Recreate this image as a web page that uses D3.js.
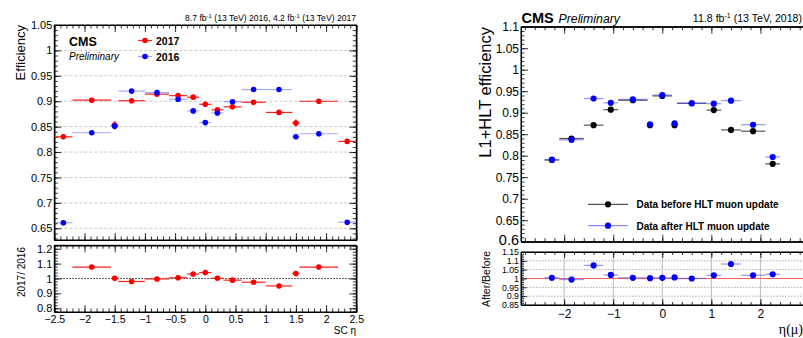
<!DOCTYPE html>
<html><head><meta charset="utf-8">
<script src="https://cdn.jsdelivr.net/npm/d3@7"></script>
<style>
body{margin:0;background:#fff}
svg{display:block}
text{font-family:"Liberation Sans",Arial,Helvetica,sans-serif;fill:#000}
</style>
</head><body>
<svg id="c" width="803" height="338"></svg>
<script>
// ---------------- LEFT PANEL DATA (SC eta, 2017 vs 2016) ----------------
const leftBinLow  = [-2.5, -2.2, -1.56, -1.44, -1.0, -0.6, -0.3, -0.1, 0.1, 0.3, 0.6, 1.0, 1.44, 1.56, 2.2];
const leftBinHigh = [-2.2, -1.56, -1.44, -1.0, -0.6, -0.3, -0.1, 0.1, 0.3, 0.6, 1.0, 1.44, 1.56, 2.2, 2.5];
const eff2017 = [0.830, 0.902, 0.853, 0.901, 0.914, 0.911, 0.908, 0.894, 0.883, 0.889, 0.898, 0.878, 0.857, 0.900, 0.821];
const err2017 = [0.005, 0.002, 0.008, 0.002, 0.002, 0.002, 0.003, 0.003, 0.003, 0.002, 0.002, 0.002, 0.007, 0.002, 0.005];
const eff2016 = [0.661, 0.838, 0.851, 0.920, 0.917, 0.904, 0.881, 0.858, 0.877, 0.899, 0.923, 0.923, 0.830, 0.836, 0.662];
const err2016 = [0.004, 0.002, 0.007, 0.002, 0.002, 0.002, 0.003, 0.003, 0.003, 0.002, 0.002, 0.002, 0.006, 0.002, 0.004];
const ratio1716    = [null, 1.077, 1.001, 0.980, 0.997, 1.005, 1.030, 1.040, 1.002, 0.989, 0.975, 0.950, 1.034, 1.077, null];
const ratio1716Err = [null, 0.003, 0.010, 0.003, 0.003, 0.003, 0.004, 0.004, 0.004, 0.003, 0.003, 0.003, 0.010, 0.003, null];
const leftXTicks = [-2.5, -2, -1.5, -1, -0.5, 0, 0.5, 1, 1.5, 2, 2.5];
const leftXTickLabels = ["−2.5", "−2", "−1.5", "−1", "−0.5", "0", "0.5", "1", "1.5", "2", "2.5"];
const leftYTicks = [0.65, 0.7, 0.75, 0.8, 0.85, 0.9, 0.95, 1, 1.05];
const leftRatioTicks = [0.8, 0.9, 1, 1.1, 1.2];

// ---------------- RIGHT PANEL DATA (muon eta, before/after HLT update) ----------------
const rightBinLow  = [-2.4, -2.1, -1.6, -1.2, -0.9, -0.3, -0.2, 0.2, 0.3, 0.9, 1.2, 1.6, 2.1];
const rightBinHigh = [-2.1, -1.6, -1.2, -0.9, -0.3, -0.2, 0.2, 0.3, 0.9, 1.2, 1.6, 2.1, 2.4];
const effBefore = [0.790, 0.840, 0.871, 0.907, 0.929, 0.871, 0.939, 0.871, 0.922, 0.906, 0.860, 0.857, 0.781];
const effAfter  = [0.791, 0.837, 0.933, 0.923, 0.931, 0.873, 0.941, 0.875, 0.922, 0.921, 0.928, 0.872, 0.797];
const ratioAB   = [1.004, 0.994, 1.074, 1.020, 1.004, 1.002, 1.004, 1.006, 1.000, 1.018, 1.082, 1.018, 1.024];
const rightXTicks = [-2, -1, 0, 1, 2];
const rightYTicks = [0.6, 0.65, 0.7, 0.75, 0.8, 0.85, 0.9, 0.95, 1, 1.05, 1.1];
const rightYTickLabels = ["0.6", "0.65", "0.7", "0.75", "0.8", "0.85", "0.9", "0.95", "1", "1.05", "1.1"];
const rightRatioTicks = [0.85, 0.9, 0.95, 1, 1.05, 1.1, 1.15];

const svg = d3.select("#c");
const FONT = '"Liberation Sans",Arial,Helvetica,sans-serif';

function minorTicks(domain, step) {
  const lo = Math.ceil(domain[0] / step - 1e-6), hi = Math.floor(domain[1] / step + 1e-6);
  return d3.range(lo, hi + 1).map(i => +(i * step).toFixed(6));
}

// draws inward ticks on the requested sides
function drawAxes(g, x, y, o) {
  const x0 = x.range()[0], yTop = y.range()[1], yBot = y.range()[0];
  const mk = (axisFn, scale, vals, size, fmt, pad, tx, ty, fs) => {
    const a = axisFn(scale).tickValues(vals).tickSizeInner(-size).tickSizeOuter(0).tickPadding(pad);
    a.tickFormat(fmt || (() => ""));
    const gg = g.append("g").attr("transform", `translate(${tx},${ty})`).call(a);
    gg.select(".domain").attr("stroke", "#000").attr("stroke-width", 1);
    gg.selectAll(".tick line").attr("stroke", "#000").attr("stroke-width", 0.8);
    gg.selectAll("text").style("font-family", FONT).style("font-size", (fs || 11) + "px").attr("fill", "#000");
    return gg;
  };
  const xd = x.domain(), yd = y.domain();
  const xMinor = minorTicks(xd, o.xMinor);
  const yMinor = minorTicks(yd, o.yMinor);
  mk(d3.axisBottom, x, xMinor, o.minor, null, 0, 0, yBot);
  const bx = mk(d3.axisBottom, x, o.xTicks, o.major, o.xLabels ? (d, i) => o.xLabels[i] : null, o.xPad || 3, 0, yBot, o.xFont);
  if (o.top !== false) {
    mk(d3.axisTop, x, xMinor, o.minor, null, 0, 0, yTop);
    mk(d3.axisTop, x, o.xTicks, o.major, null, 0, 0, yTop);
  }
  mk(d3.axisLeft, y, yMinor, o.minor, null, 0, x0, 0);
  const ly = mk(d3.axisLeft, y, o.yTicks, o.major, o.yLabels ? (d, i) => o.yLabels[i] : null, o.yPad || 3, x0, 0, o.yFont);
  if (o.right !== false) {
    const xr = x.range()[1];
    mk(d3.axisRight, y, yMinor, o.minor, null, 0, xr, 0);
    mk(d3.axisRight, y, o.yTicks, o.major, null, 0, xr, 0);
  }
  return {bx, ly};
}

function drawPoints(g, x, y, low, high, vals, errs, col, barCol, r) {
  const data = vals.map((v, i) => ({v, e: errs ? errs[i] : 0, lo: low[i], hi: high[i]})).filter(d => d.v != null);
  const gg = g.append("g");
  gg.selectAll("line.h").data(data).join("line")
    .attr("x1", d => x(d.lo)).attr("x2", d => x(d.hi))
    .attr("y1", d => y(d.v)).attr("y2", d => y(d.v))
    .attr("stroke", barCol).attr("stroke-width", 1.2);
  gg.selectAll("line.v").data(data.filter(d => d.e > 0)).join("line")
    .attr("x1", d => x((d.lo + d.hi) / 2)).attr("x2", d => x((d.lo + d.hi) / 2))
    .attr("y1", d => y(d.v - d.e)).attr("y2", d => y(d.v + d.e))
    .attr("stroke", barCol).attr("stroke-width", 1.6);
  gg.selectAll("circle").data(data).join("circle")
    .attr("cx", d => x((d.lo + d.hi) / 2)).attr("cy", d => y(d.v))
    .attr("r", r).attr("fill", col);
}

function text(g, x, y, str, size, opts = {}) {
  const t = g.append("text").attr("x", x).attr("y", y)
    .style("font-size", size + "px")
    .style("font-family", opts.family || FONT)
    .style("font-weight", opts.weight || "normal")
    .style("font-style", opts.style || "normal")
    .attr("text-anchor", opts.anchor || "start");
  if (opts.rotate) t.attr("transform", `rotate(-90,${x},${y})`);
  t.text(str);
  return t;
}

// =================== LEFT PANEL ===================
{
  const g = svg.append("g");
  const x = d3.scaleLinear().domain([-2.5, 2.5]).range([54.3, 356.3]);
  const y = d3.scaleLinear().domain([0.627, 1.05]).range([240, 25]);
  const yr = d3.scaleLinear().domain([0.775, 1.223]).range([312, 245.3]);

  g.append("g").selectAll("line").data(leftYTicks.filter(v => v < 1.04)).join("line")
    .attr("x1", x(-2.5)).attr("x2", x(2.5)).attr("y1", d => y(d)).attr("y2", d => y(d))
    .attr("stroke", "#bbb").attr("stroke-width", 0.8).attr("stroke-dasharray", "3,2");

  drawAxes(g, x, y, {xTicks: leftXTicks, xMinor: 0.1, yTicks: leftYTicks, yMinor: 0.01,
    major: 7, minor: 3.5, yLabels: leftYTicks.map(d => d3.format("")(d)), yFont: 11, yPad: 2});
  g.append("rect").attr("x", 54.3).attr("y", 25).attr("width", 302).attr("height", 215)
    .attr("fill", "none").attr("stroke", "#000").attr("stroke-width", 1);

  drawPoints(g, x, y, leftBinLow, leftBinHigh, eff2017, err2017, "#ff0000", "#ff2020", 2.8);
  drawPoints(g, x, y, leftBinLow, leftBinHigh, eff2016, err2016, "#0000ff", "rgba(60,60,255,0.45)", 2.8);

  g.append("line").attr("x1", x(-2.5)).attr("x2", x(2.5)).attr("y1", yr(1)).attr("y2", yr(1))
    .attr("stroke", "#333").attr("stroke-width", 1.2).attr("stroke-dasharray", "1.5,1.5");
  drawAxes(g, x, yr, {xTicks: leftXTicks, xMinor: 0.1, yTicks: leftRatioTicks, yMinor: 0.02,
    major: 7, minor: 3.5, xLabels: leftXTickLabels, xFont: 10.5, xPad: 4,
    yLabels: leftRatioTicks.map(d => d3.format("")(d)), yFont: 11, yPad: 2});
  g.append("rect").attr("x", 54.3).attr("y", 245.3).attr("width", 302).attr("height", 66.7)
    .attr("fill", "none").attr("stroke", "#000").attr("stroke-width", 1);
  drawPoints(g, x, yr, leftBinLow, leftBinHigh, ratio1716, ratio1716Err, "#ff0000", "#ff2020", 2.8);

  const t = text(g, 356, 20.5, "", 8.6, {anchor: "end"});
  t.append("tspan").text("8.7 fb");
  t.append("tspan").attr("dy", -3).style("font-size", "6px").text("-1");
  t.append("tspan").attr("dy", 3).text(" (13 TeV) 2016, 4.2 fb");
  t.append("tspan").attr("dy", -3).style("font-size", "6px").text("-1");
  t.append("tspan").attr("dy", 3).text(" (13 TeV) 2017");

  text(g, 69, 45.5, "CMS", 12.5, {weight: "bold"});
  text(g, 69, 60, "Preliminary", 10, {style: "italic"});

  [["2017", "#ff0000", "#ff2020", 40.5], ["2016", "#0000ff", "rgba(60,60,255,0.45)", 56.5]].forEach(([lab, c, bc, yy]) => {
    g.append("line").attr("x1", 138).attr("x2", 152).attr("y1", yy).attr("y2", yy).attr("stroke", bc).attr("stroke-width", 1.2);
    g.append("circle").attr("cx", 145).attr("cy", yy).attr("r", 2.8).attr("fill", c);
    text(g, 156, yy + 4, lab, 10.5, {weight: "bold"});
  });

  text(g, 24.5, 25, "Efficiency", 13, {anchor: "end", rotate: true});
  text(g, 25, 247, "2017/ 2016", 10, {anchor: "end", rotate: true});
  text(g, 356, 334, "SC η", 10, {anchor: "end"});
}

// =================== RIGHT PANEL ===================
{
  const g = svg.append("g");
  const x = d3.scaleLinear().domain([-2.88, 2.88]).range([521, 803.6]);
  const y = d3.scaleLinear().domain([0.6, 1.1]).range([241.7, 26.7]);
  const yr = d3.scaleLinear().domain([0.85, 1.15]).range([305, 252]);

  const ax = drawAxes(g, x, y, {xTicks: rightXTicks, xMinor: 0.2, yTicks: rightYTicks, yMinor: 0.01,
    major: 7, minor: 3.5, yLabels: rightYTickLabels, yFont: 12, yPad: 2, right: false});
  ax.ly.selectAll("text").filter((d) => d === 0.6).style("font-size", "14.5px").attr("dy", "0.2em");
  g.append("line").attr("x1", 521).attr("x2", 803).attr("y1", 26.7).attr("y2", 26.7).attr("stroke", "#000");
  g.append("line").attr("x1", 521).attr("x2", 803).attr("y1", 241.7).attr("y2", 241.7).attr("stroke", "#000");
  g.append("line").attr("x1", 521).attr("x2", 521).attr("y1", 26.7).attr("y2", 241.7).attr("stroke", "#000");

  drawPoints(g, x, y, rightBinLow, rightBinHigh, effBefore, null, "#000", "#555", 3.1);
  drawPoints(g, x, y, rightBinLow, rightBinHigh, effAfter, null, "#0000ff", "rgba(60,60,255,0.55)", 3.1);

  g.append("g").selectAll("line").data(rightRatioTicks.filter(v => v !== 1)).join("line")
    .attr("x1", 521).attr("x2", 803).attr("y1", d => yr(d)).attr("y2", d => yr(d))
    .attr("stroke", "#999").attr("stroke-width", 0.8).attr("stroke-dasharray", "1.5,1.5");
  g.append("g").selectAll("line").data(rightXTicks).join("line")
    .attr("x1", d => x(d)).attr("x2", d => x(d)).attr("y1", 252).attr("y2", 305)
    .attr("stroke", "#bbb").attr("stroke-width", 1);
  g.append("line").attr("x1", 521).attr("x2", 803).attr("y1", yr(1)).attr("y2", yr(1))
    .attr("stroke", "#ff6060").attr("stroke-width", 1.1);

  drawAxes(g, x, yr, {xTicks: rightXTicks, xMinor: 0.2, yTicks: rightRatioTicks, yMinor: 0.01,
    major: 6, minor: 3, xLabels: rightXTicks.map(d => d3.format("")(d)), xFont: 12, xPad: 4,
    yLabels: rightRatioTicks.map(d => d3.format("")(d)), yFont: 8.8, yPad: 2, right: false});
  g.append("line").attr("x1", 521).attr("x2", 803).attr("y1", 252).attr("y2", 252).attr("stroke", "#000");
  g.append("line").attr("x1", 521).attr("x2", 803).attr("y1", 305).attr("y2", 305).attr("stroke", "#000");
  g.append("line").attr("x1", 521).attr("x2", 521).attr("y1", 252).attr("y2", 305).attr("stroke", "#000");

  drawPoints(g, x, yr, rightBinLow, rightBinHigh, ratioAB, null, "#0000ff", "rgba(60,60,255,0.55)", 3.1);

  text(g, 521.5, 23, "CMS", 14.5, {weight: "bold"});
  text(g, 558.5, 23, "Preliminary", 12.3, {style: "italic"});
  const t = text(g, 802, 21.5, "", 10.6, {anchor: "end"});
  t.append("tspan").text("11.8 fb");
  t.append("tspan").attr("dy", -4).style("font-size", "7px").text("-1");
  t.append("tspan").attr("dy", 4).text(" (13 TeV, 2018)");

  [["Data before HLT muon update", "#000", "#555", 204.3], ["Data after HLT muon update", "#0000ff", "rgba(60,60,255,0.6)", 225.7]].forEach(([lab, c, bc, yy]) => {
    g.append("line").attr("x1", 588).attr("x2", 628).attr("y1", yy).attr("y2", yy).attr("stroke", bc).attr("stroke-width", 1.2);
    g.append("circle").attr("cx", 608).attr("cy", yy).attr("r", 3.1).attr("fill", c);
    text(g, 636.5, yy + 3.8, lab, 10, {weight: "bold"});
  });

  text(g, 491, 27, "L1+HLT efficiency", 16.5, {anchor: "end", rotate: true});
  text(g, 489.5, 251, "After/Before", 10.5, {anchor: "end", rotate: true});
  text(g, 803, 334, "η(μ)", 14, {anchor: "end", family: '"Liberation Serif","DejaVu Serif",serif'});
}
</script>
</body></html>
